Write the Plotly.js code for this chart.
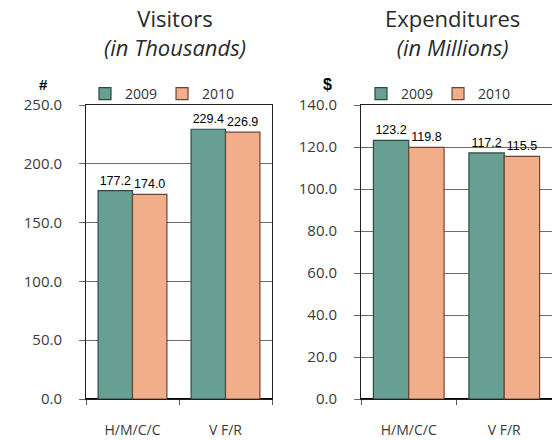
<!DOCTYPE html>
<html>
<head>
<meta charset="utf-8">
<script src="https://cdn.plot.ly/plotly-3.0.1.min.js"></script>
<style>html,body{margin:0;padding:0;background:#fff}#chart{width:552px;height:440px}</style>
</head>
<body>
<div id="chart"></div>
<script>
// ---- data ----
var categories = ["H/M/C/C", "V F/R"];
var seriesNames = ["2009", "2010"];
var visitors2009 = [177.2, 229.4];
var visitors2010 = [174.0, 226.9];
var expend2009 = [123.2, 117.2];
var expend2010 = [119.8, 115.5];

var green = "#67a092", greenEdge = "#2c4842";
var orange = "#f2ae8a", orangeEdge = "#6a4636";
var sans = "Open Sans, DejaVu Sans, sans-serif";
var tickFont = {family: sans, size: 15, color: "#3a3a3a"};
var labelFont = {family: "Liberation Sans, Arial, sans-serif", size: 12.5, color: "#000"};

function barTrace(name, x, y, color, edge, xa, ya, leg) {
  return {
    type: "bar", name: name, x: x, y: y, xaxis: xa, yaxis: ya, legend: leg, showlegend: true,
    marker: {color: color, line: {color: edge, width: 1.2}},
    text: y.map(function(v){return v.toFixed(1);}), textposition: "outside",
    textfont: labelFont, cliponaxis: false, hoverinfo: "skip"
  };
}

var traces = [
  barTrace(seriesNames[0], categories, visitors2009, green, greenEdge, "x", "y", "legend"),
  barTrace(seriesNames[1], categories, visitors2010, orange, orangeEdge, "x", "y", "legend"),
  barTrace(seriesNames[0], categories, expend2009, green, greenEdge, "x2", "y2", "legend2"),
  barTrace(seriesNames[1], categories, expend2010, orange, orangeEdge, "x2", "y2", "legend2")
];

var W = 552, H = 440;
var yBot = 1 - 399 / H, yTop = 1 - 105 / H;

function xAxis(d0, d1, anchor, rng) {
  return {
    domain: [d0, d1], anchor: anchor, type: "category", range: rng,
    showline: true, linecolor: "#222", linewidth: 1, mirror: true,
    ticks: "outside", tickson: "boundaries", ticklen: 5, tickcolor: "#555",
    tickfont: {family: sans, size: 14, color: "#3a3a3a"},
    ticklabelstandoff: 18, showgrid: false, fixedrange: true, automargin: false
  };
}
function yAxis(anchor, rng, dt, mirror) {
  return {
    domain: [yBot, yTop], anchor: anchor, range: rng, dtick: dt, tickformat: ".1f",
    showline: true, linecolor: "#222", linewidth: 1, mirror: mirror,
    ticks: "outside", ticklen: 6, tickcolor: "#666",
    showgrid: true, gridcolor: "#6e6e6e", gridwidth: 1,
    zeroline: true, zerolinecolor: "#000", zerolinewidth: 2.5,
    tickfont: tickFont, ticklabelstandoff: 14, fixedrange: true, automargin: false
  };
}
function legendCfg(x) {
  return {orientation: "h", x: x, xanchor: "left", y: 1 - 78 / H, yanchor: "top",
          font: {family: sans, size: 14, color: "#333"}, bgcolor: "rgba(0,0,0,0)",
          tracegroupgap: 0};
}

var layout = {
  width: W, height: H, margin: {l: 0, r: 0, t: 0, b: 0, autoexpand: false},
  paper_bgcolor: "#fff", plot_bgcolor: "#fff",
  barmode: "group", bargap: 0.26, bargroupgap: 0,
  xaxis: xAxis(86 / W, 272 / W, "y", [-0.5, 1.5]),
  yaxis: yAxis("x", [0, 250], 50, true),
  xaxis2: xAxis(361 / W, 1, "y2", [-0.5, 1.5]),
  yaxis2: yAxis("x2", [0, 140], 20, false),
  legend: legendCfg(85 / W),
  legend2: legendCfg(361 / W),
  annotations: [
    {xref: "paper", yref: "paper", x: 175 / W, y: 1 - 33 / H, xanchor: "center", yanchor: "middle",
     text: "Visitors<br><i>(in Thousands)</i>", showarrow: false,
     font: {family: sans, size: 22, color: "#2a2a2a"}},
    {xref: "paper", yref: "paper", x: 452 / W, y: 1 - 33 / H, xanchor: "center", yanchor: "middle",
     text: "Expenditures<br><i>(in Millions)</i>", showarrow: false,
     font: {family: sans, size: 22, color: "#2a2a2a"}},
    {xref: "paper", yref: "paper", x: 44 / W, y: 1 - 85 / H, xanchor: "center", yanchor: "middle",
     text: "<b>#</b>", showarrow: false,
     font: {family: "Liberation Sans, Arial, sans-serif", size: 15, color: "#000"}},
    {xref: "paper", yref: "paper", x: 327 / W, y: 1 - 85 / H, xanchor: "center", yanchor: "middle",
     text: "<b>$</b>", showarrow: false,
     font: {family: "Liberation Sans, Arial, sans-serif", size: 16, color: "#000"}}
  ]
};

Plotly.newPlot("chart", traces, layout, {staticPlot: true, displayModeBar: false});
</script>
</body>
</html>
